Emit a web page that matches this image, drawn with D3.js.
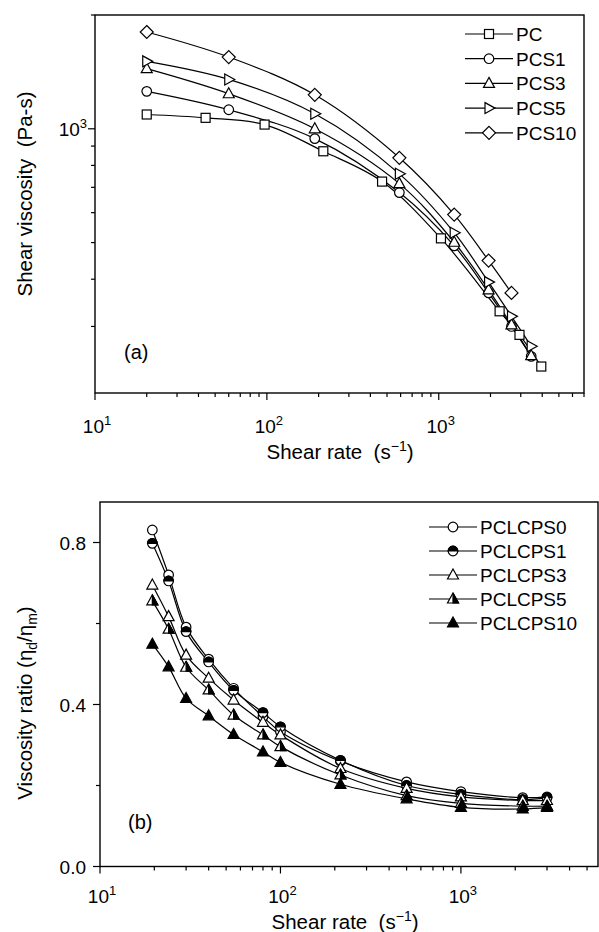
<!DOCTYPE html>
<html>
<head>
<meta charset="utf-8">
<script src="https://cdn.jsdelivr.net/npm/d3@7"></script>
<style>
  body { margin: 0; background: #fff; }
  text { font-family: "Liberation Sans", Arial, sans-serif; fill: #000; }
</style>
</head>
<body>
<svg id="fig" width="599" height="932"></svg>
<script>
// (a) shear viscosity vs shear rate
const pcRate = [20, 44, 97, 213, 468, 1030, 2260, 2950, 3950];
const pcVisc = [1091, 1069, 1026, 872, 725, 513, 329, 285, 235];
const pcsRate = [20, 60, 190, 590, 1230, 1950, 2650, 3450];
const pcs1Visc = [1256, 1123, 942, 678, 490, 368, 300, 250];
const pcs3Visc = [1442, 1238, 1000, 716, 501, 375, 303, 251];
const pcs5Visc = [1508, 1351, 1096, 760, 531, 393, 319, 266];
const pcs10Visc = [1803, 1548, 1230, 838, 593, 448, 368];
const namesA = ['PC', 'PCS1', 'PCS3', 'PCS5', 'PCS10'];

// (b) viscosity ratio vs shear rate
const blendRate = [19.5, 24, 30, 40, 55, 80, 100, 215, 500, 1000, 2200, 3000];
const ratio0 = [0.831, 0.72, 0.591, 0.512, 0.44, 0.37, 0.333, 0.26, 0.209, 0.185, 0.17, 0.172];
const ratio1 = [0.798, 0.705, 0.58, 0.505, 0.435, 0.38, 0.345, 0.262, 0.2, 0.178, 0.165, 0.17];
const ratio3 = [0.695, 0.617, 0.522, 0.465, 0.411, 0.356, 0.325, 0.242, 0.193, 0.172, 0.163, 0.163];
const ratio5 = [0.656, 0.586, 0.492, 0.436, 0.374, 0.325, 0.296, 0.226, 0.175, 0.156, 0.149, 0.149];
const ratio10 = [0.549, 0.493, 0.415, 0.372, 0.326, 0.283, 0.257, 0.203, 0.167, 0.146, 0.142, 0.146];
const namesB = ['PCLCPS0', 'PCLCPS1', 'PCLCPS3', 'PCLCPS5', 'PCLCPS10'];

const yTicksA = [1000];
const yTicksB = [0, 0.4, 0.8];

const svg = d3.select('#fig');
const FS = 19;
const TS = 20.5;

function marker(g, type, x, y) {
  const s = g.append('g').attr('transform', `translate(${x},${y})`)
    .attr('stroke', '#000').attr('stroke-width', 1.2);
  if (type === 'square') {
    s.append('rect').attr('x', -4.5).attr('y', -4.5).attr('width', 9).attr('height', 9).attr('fill', '#fff');
  } else if (type === 'circle') {
    s.append('circle').attr('r', 4.8).attr('fill', '#fff');
  } else if (type === 'halfCircle') {
    s.append('circle').attr('r', 4.8).attr('fill', '#fff');
    s.append('path').attr('d', 'M-4.8,0A4.8,4.8 0 0 1 4.8,0Z').attr('fill', '#000');
  } else if (type === 'triUp') {
    s.append('path').attr('d', 'M0,-6L5.5,4L-5.5,4Z').attr('fill', '#fff');
  } else if (type === 'halfTri') {
    s.append('path').attr('d', 'M0,-6L5.5,4L-5.5,4Z').attr('fill', '#fff');
    s.append('path').attr('d', 'M0,-6L5.5,4L0,4Z').attr('fill', '#000');
  } else if (type === 'fillTri') {
    s.append('path').attr('d', 'M0,-6L5.5,4L-5.5,4Z').attr('fill', '#000');
  } else if (type === 'triRight') {
    s.append('path').attr('d', 'M6,0L-4,-5.5L-4,5.5Z').attr('fill', '#fff');
  } else if (type === 'diamond') {
    s.append('path').attr('d', 'M0,-6.5L6.5,0L0,6.5L-6.5,0Z').attr('fill', '#fff');
  }
}

function powLabel(g, x, y, exp, anchor) {
  const t = g.append('text').attr('x', x).attr('y', y)
    .attr('text-anchor', anchor).attr('font-size', FS);
  t.append('tspan').text('10');
  t.append('tspan').attr('dy', -8).attr('font-size', 13).text(exp);
}

function drawPanel(cfg) {
  const { x, y, series, symbols, names, leg, lab } = cfg;
  const [x0, x1] = x.range();
  const [y0, y1] = y.range();
  const g = svg.append('g');

  const line = d3.line().curve(d3.curveCatmullRom.alpha(0.5));
  series.forEach((s) => {
    const pts = s.vals.map((v, j) => [x(s.rate[j]), y(v)]);
    g.append('path').attr('d', line(pts)).attr('fill', 'none')
      .attr('stroke', '#000').attr('stroke-width', 1.2);
  });
  series.forEach((s, i) => {
    s.vals.forEach((v, j) => marker(g, symbols[i], x(s.rate[j]), y(v)));
  });

  // frame
  g.append('rect').attr('x', x0).attr('y', y1).attr('width', x1 - x0).attr('height', y0 - y1)
    .attr('fill', 'none').attr('stroke', '#000').attr('stroke-width', 1.4);

  // x ticks
  const [d0, d1] = x.domain();
  const xt = [];
  for (let e = 1; e < 4; e++) for (let m = 1; m < 10; m++) {
    const v = m * Math.pow(10, e);
    if (v >= d0 && v <= d1) xt.push({ v, major: m === 1 });
  }
  xt.forEach(t => {
    g.append('line').attr('x1', x(t.v)).attr('x2', x(t.v)).attr('y1', y0)
      .attr('y2', y0 + (t.major ? 7 : 4)).attr('stroke', '#000').attr('stroke-width', 1.2);
    if (t.major) powLabel(g, x(t.v) + 2, y0 + lab.tick, String(Math.round(Math.log10(t.v))), 'middle');
  });
  g.append('text').attr('x', lab.cx).attr('y', y0 + lab.title).attr('text-anchor', 'middle')
    .attr('font-size', TS).html('Shear rate&#160;&#160;(s<tspan dy="-8" font-size="14">\u22121</tspan><tspan dy="8">)</tspan>');

  // legend
  names.forEach((n, i) => {
    const ly = leg.y + i * leg.dy;
    g.append('line').attr('x1', leg.x).attr('x2', leg.x + 48).attr('y1', ly).attr('y2', ly)
      .attr('stroke', '#000').attr('stroke-width', 1.2);
    marker(g, symbols[i], leg.x + 24, ly);
    g.append('text').attr('x', leg.x + 51).attr('y', ly + 7).attr('font-size', FS).text(n);
  });
  return g;
}

// panel (a)
const xA = d3.scaleLog().domain([10, 7000]).range([95, 584]);
const yA = d3.scaleLog().domain([200, 2000]).range([393, 15]);
const gA = drawPanel({
  x: xA, y: yA,
  series: [
    { rate: pcRate, vals: pcVisc },
    { rate: pcsRate, vals: pcs1Visc },
    { rate: pcsRate, vals: pcs3Visc },
    { rate: pcsRate, vals: pcs5Visc },
    { rate: pcsRate.slice(0, pcs10Visc.length), vals: pcs10Visc }
  ],
  symbols: ['square', 'circle', 'triUp', 'triRight', 'diamond'],
  names: namesA,
  leg: { x: 465, y: 34, dy: 24.7 },
  lab: { tick: 40, title: 66, cx: 340 }
});
const yMinorA = [300, 400, 500, 600, 700, 800, 900, 2000];
yMinorA.forEach(v => gA.append('line').attr('x1', 95).attr('x2', 91).attr('y1', yA(v)).attr('y2', yA(v))
  .attr('stroke', '#000').attr('stroke-width', 1.2));
yTicksA.forEach(v => {
  gA.append('line').attr('x1', 95).attr('x2', 88).attr('y1', yA(v)).attr('y2', yA(v))
    .attr('stroke', '#000').attr('stroke-width', 1.2);
  powLabel(gA, 87, yA(v) + 7, String(Math.log10(v)), 'end');
});
gA.append('text').attr('x', 124).attr('y', 359).attr('font-size', 20).text('(a)');
gA.append('text').attr('transform', `translate(32,${(15 + 393) / 2 - 10}) rotate(-90)`)
  .attr('text-anchor', 'middle').attr('font-size', TS).html('Shear viscosity&#160;&#160;(Pa-s)');

// panel (b)
const xB = d3.scaleLog().domain([10, 5750]).range([100, 598]);
const yB = d3.scaleLinear().domain([0, 0.9]).range([866.5, 502]);
const gB = drawPanel({
  x: xB, y: yB,
  series: [ratio0, ratio1, ratio3, ratio5, ratio10].map(r => ({ rate: blendRate, vals: r })),
  symbols: ['circle', 'halfCircle', 'triUp', 'halfTri', 'fillTri'],
  names: namesB,
  leg: { x: 429, y: 527, dy: 24 },
  lab: { tick: 36, title: 62, cx: 345 }
});
[0.2, 0.6].forEach(v => gB.append('line').attr('x1', 100).attr('x2', 96).attr('y1', yB(v)).attr('y2', yB(v))
  .attr('stroke', '#000').attr('stroke-width', 1.2));
yTicksB.forEach(v => {
  gB.append('line').attr('x1', 100).attr('x2', 93).attr('y1', yB(v)).attr('y2', yB(v))
    .attr('stroke', '#000').attr('stroke-width', 1.2);
  gB.append('text').attr('x', 86).attr('y', yB(v) + 7).attr('text-anchor', 'end')
    .attr('font-size', FS).text(v.toFixed(1));
});
gB.append('text').attr('x', 128).attr('y', 829).attr('font-size', 20).text('(b)');
gB.append('text').attr('transform', `translate(32,703) rotate(-90)`)
  .attr('text-anchor', 'middle').attr('font-size', TS)
  .html('Viscosity ratio (\u03B7<tspan dy="5" font-size="14">d</tspan><tspan dy="-5">/\u03B7</tspan><tspan dy="5" font-size="14">m</tspan><tspan dy="-5">)</tspan>');
</script>
</body>
</html>
